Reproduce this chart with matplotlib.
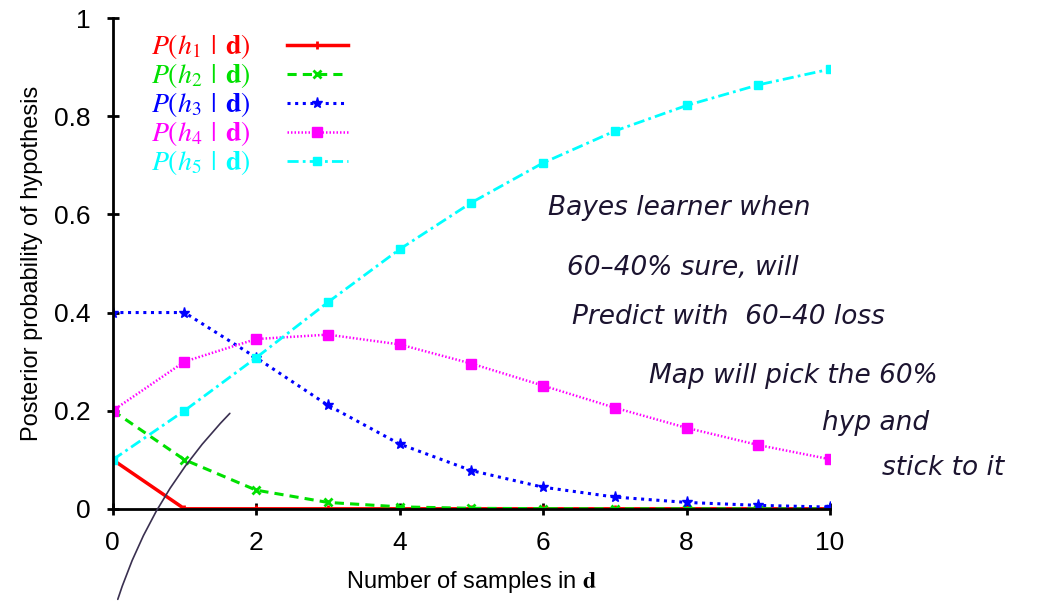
import numpy as np
import matplotlib.pyplot as plt
from matplotlib.patches import FancyArrowPatch

# posterior probabilities (samples 0..10)
n_samples = list(range(11))
p_h1 = [0.10, 0.0, 0.0, 0.0, 0.0, 0.0, 0.0, 0.0, 0.0, 0.0, 0.0]
p_h2 = [0.20, 0.10, 0.038, 0.013, 0.004, 0.001, 0.0003, 0.0001, 0.0, 0.0, 0.0]
p_h3 = [0.40, 0.40, 0.308, 0.211, 0.132, 0.078, 0.044, 0.024, 0.013, 0.007, 0.0035]
p_h4 = [0.20, 0.30, 0.346, 0.355, 0.335, 0.296, 0.251, 0.206, 0.165, 0.130, 0.101]
p_h5 = [0.10, 0.20, 0.308, 0.421, 0.529, 0.624, 0.705, 0.770, 0.822, 0.864, 0.896]

colors = ['#ff0000', '#00e000', '#0000ff', '#ff00ff', '#00ffff']
notes = ["Bayes learner when", "60\u201340% sure, will", "Predict with  60\u201340 loss",
         "Map will pick the 60%", "hyp and", "stick to it"]

plt.rcParams['mathtext.fontset'] = 'stix'
plt.rcParams['font.family'] = ['Liberation Sans', 'DejaVu Sans']
fig = plt.figure(figsize=(10.44, 6.05), dpi=100)
ax = fig.add_axes([0.108, 0.159, 0.687, 0.811])

lab = r'$P(h_{%d}\;\,|\;\,\mathbf{d})$'
ax.plot(n_samples, p_h1, color=colors[0], lw=2.5, ls='-', marker='|', ms=6, mew=2, label=lab % 1)
ax.plot(n_samples, p_h2, color=colors[1], lw=2.2, ls=(0, (3, 2)), marker='x', ms=6, mew=2, label=lab % 2)
ax.plot(n_samples, p_h3, color=colors[2], lw=2.2, ls=(0, (1, 1.5)), marker='*', ms=8, label=lab % 3)
ax.plot(n_samples, p_h4, color=colors[3], lw=1.8, ls=(0, (0.6, 0.8)), marker='s', ms=7, label=lab % 4)
ax.plot(n_samples, p_h5, color=colors[4], lw=2.0, ls=(0, (4, 1.5, 1, 1.5)), marker='s', ms=6, label=lab % 5)

ax.set_xlim(0, 10)
ax.set_ylim(0, 1)
ax.set_xticks([0, 2, 4, 6, 8, 10])
ax.set_yticks([0, 0.2, 0.4, 0.6, 0.8, 1])
ax.set_yticklabels(['0', '0.2', '0.4', '0.6', '0.8', '1'])
ax.spines['top'].set_visible(False)
ax.spines['right'].set_visible(False)
ax.spines['left'].set_linewidth(2)
ax.spines['bottom'].set_linewidth(2)
ax.tick_params(direction='inout', length=8, width=2, labelsize=19, pad=12)
ax.set_xlabel(r'Number of samples in $\mathbf{d}$', fontsize=17, labelpad=10)
ax.set_ylabel('Posterior probability of hypothesis', fontsize=17, labelpad=8)

leg = ax.legend(loc='upper left', bbox_to_anchor=(0.03, 1.005), frameon=False, markerfirst=False,
                fontsize=20, handlelength=2.2, handletextpad=1.3, labelspacing=0.0,
                borderaxespad=0.2)
for txt, c in zip(leg.get_texts(), colors):
    txt.set_color(c)

# handwritten notes
note_pos = [(0.525, 0.645), (0.543, 0.545), (0.548, 0.465), (0.622, 0.367), (0.787, 0.29), (0.845, 0.215)]
for (x, y), t in zip(note_pos, notes):
    fig.text(x, y, t, fontsize=19, color='#1c1430', style='italic', family='DejaVu Sans')

arrow = FancyArrowPatch((0.112, 0.005), (0.222, 0.32), transform=fig.transFigure,
                        connectionstyle='arc3,rad=-0.12', arrowstyle='-', color='#3a3050', lw=1.2)
fig.patches.append(arrow)

fig.savefig('out.png', dpi=100)
